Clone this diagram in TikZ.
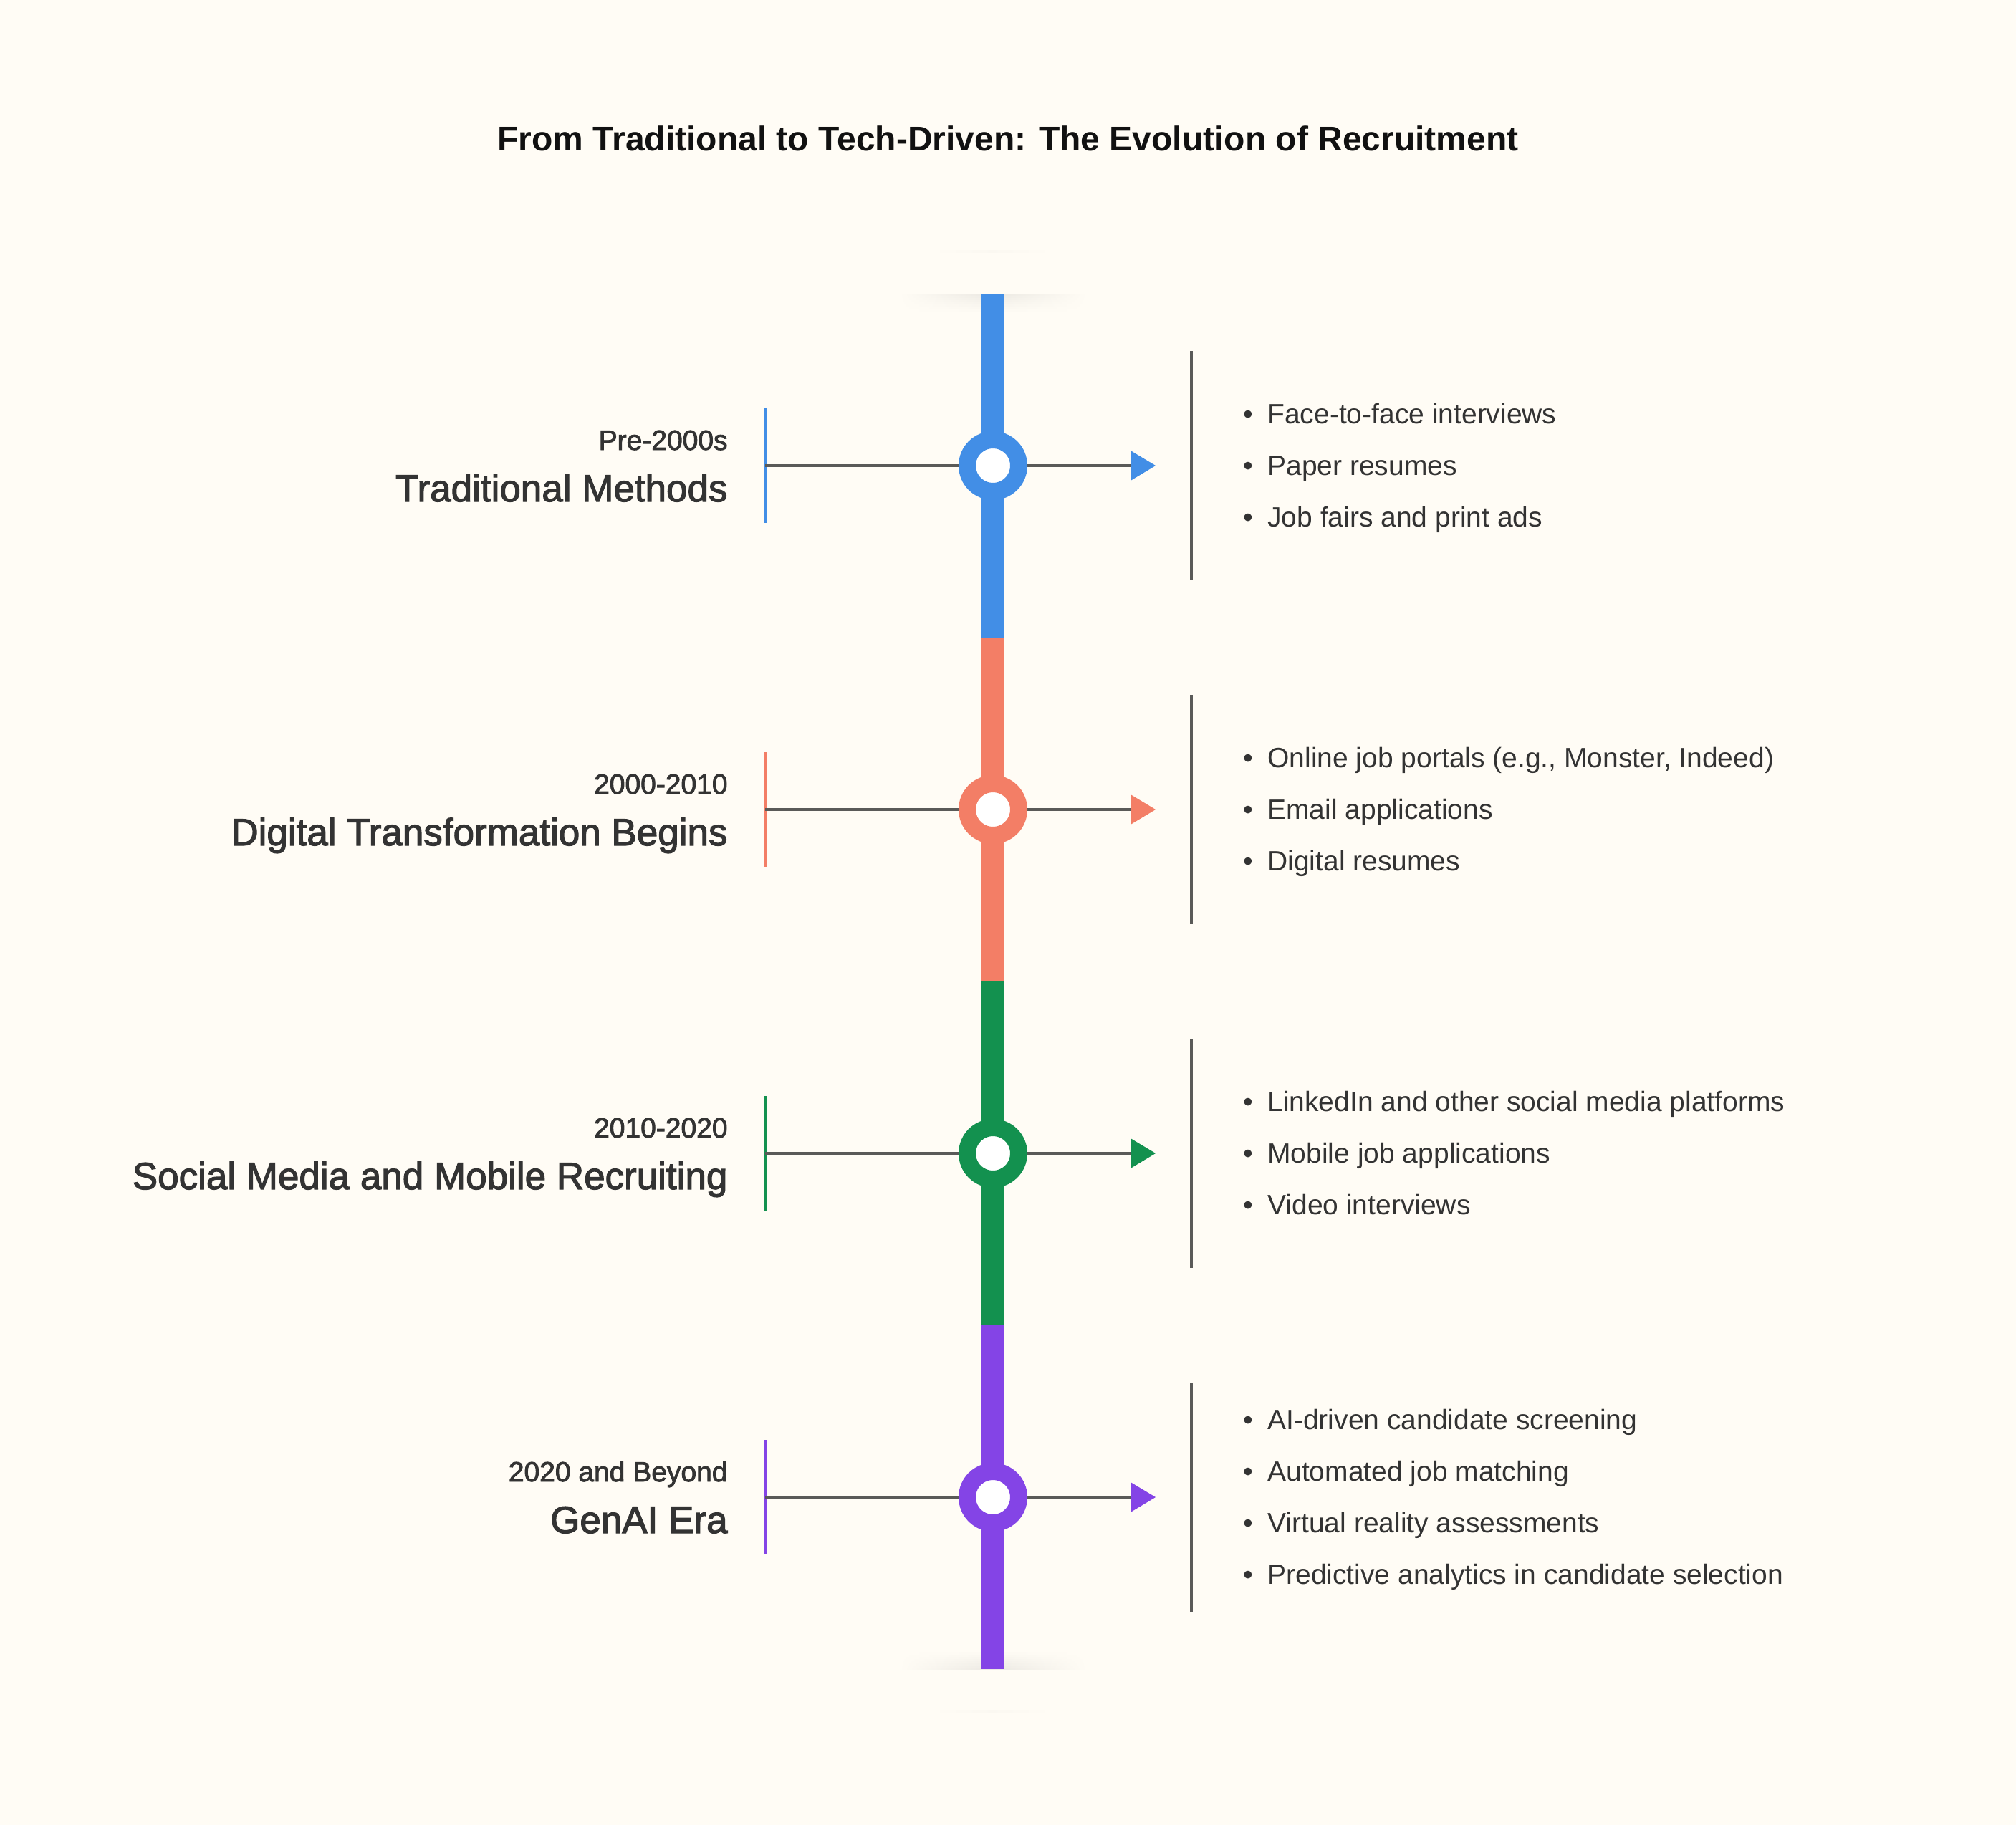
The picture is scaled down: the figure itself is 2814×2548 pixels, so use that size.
\documentclass[tikz,border=0pt]{standalone}
\usepackage{fontspec}
\setmainfont{Liberation Sans}
\newfontfamily\medfont[FakeBold=2.2]{Liberation Sans}
\definecolor{bgc}{HTML}{FFFCF5}
\definecolor{cblue}{HTML}{428EE6}
\definecolor{csalmon}{HTML}{F37E66}
\definecolor{cgreen}{HTML}{13914F}
\definecolor{cpurple}{HTML}{8444E6}
\definecolor{cgray}{HTML}{5A5A58}
\definecolor{ctext}{HTML}{333333}
\definecolor{ctitle}{HTML}{111111}
\tikzset{
  titletxt/.style={font=\bfseries\fontsize{24pt}{28pt}\selectfont, text=ctitle, inner sep=0pt},
  yearlbl/.style={font=\medfont\fontsize{19.5pt}{23pt}\selectfont, text=ctext, inner sep=0pt, anchor=base east},
  phaselbl/.style={font=\medfont\fontsize{26.5pt}{30pt}\selectfont, text=ctext, inner sep=0pt, anchor=base east},
  itemtxt/.style={font=\fontsize{19.5pt}{23pt}\selectfont, text=ctext, inner sep=0pt, anchor=base west},
  barseg/.style={line width=16pt, #1},
  ring/.style={circle, draw=#1, line width=12pt, fill=white, minimum size=36pt, inner sep=0pt},
  connector/.style={draw=cgray, line width=2pt},
  tick/.style={draw=#1, line width=2pt},
  bracket/.style={draw=cgray, line width=2pt},
  capshadow/.style={left color=bgc, right color=bgc, middle color=bgc!#1!black},
}
\newcommand{\itm}[1]{\makebox[17pt][l]{\textbullet}#1}
\begin{document}
\begin{tikzpicture}[x=0.5pt,y=-0.5pt]
\fill[bgc] (0,0) rectangle (2814,2548);
\useasboundingbox (0,0) rectangle (2814,2548);

% title
\node[titletxt, anchor=base] (title) at (1407,210) {From Traditional to Tech-Driven: The Evolution of Recruitment};

% end caps with soft shadows
\shade[capshadow=98.5] (1300,349) rectangle (1470,352);
\shade[capshadow=98.5] (1300,2387) rectangle (1470,2390);
\foreach \k in {0,...,7}{
  \pgfmathsetmacro{\mx}{100-7.5*(1-\k/8)}
  \shade[capshadow=\mx] (1255,410+3*\k) rectangle (1517,413+3*\k);
  \shade[capshadow=\mx] (1255,2327-3*\k) rectangle (1517,2330-3*\k);
}

% spine coordinates
\coordinate (top) at (1386,410);
\coordinate (m1) at (1386,890);
\coordinate (m2) at (1386,1370);
\coordinate (m3) at (1386,1850);
\coordinate (bot) at (1386,2330);
\draw[barseg=cblue] (top) -- (m1);
\draw[barseg=csalmon] (m1) -- (m2);
\draw[barseg=cgreen] (m2) -- (m3);
\draw[barseg=cpurple] (m3) -- (bot);

% per-row elements
\foreach \i/\y/\c in {1/650/cblue, 2/1130/csalmon, 3/1610/cgreen, 4/2090/cpurple}{
  \coordinate (l\i) at (1068,\y);
  \coordinate (lt\i) at (1068,\y-80);
  \coordinate (lb\i) at (1068,\y+80);
  \coordinate (ar\i) at (1578,\y);
  \coordinate (rt\i) at (1663,\y-160);
  \coordinate (rb\i) at (1663,\y+160);
  \draw[tick=\c] (lt\i) -- (lb\i);
  \draw[connector] (l\i) -- (ar\i);
  \node[ring=\c] (c\i) at (1386,\y) {};
  \fill[\c] (ar\i) ++(0,-21) -- ++(35,21) -- ++(-35,21) -- cycle;
  \draw[bracket] (rt\i) -- (rb\i);
}

% left labels
\node[yearlbl] (y1) at (1016,628) {Pre-2000s};
\node[phaselbl] (p1) at (1016,700) {Traditional Methods};
\node[yearlbl] (y2) at (1016,1108) {2000-2010};
\node[phaselbl] (p2) at (1016,1180) {Digital Transformation Begins};
\node[yearlbl] (y3) at (1016,1588) {2010-2020};
\node[phaselbl] (p3) at (1016,1660) {Social Media and Mobile Recruiting};
\node[yearlbl] (y4) at (1016,2068) {2020 and Beyond};
\node[phaselbl] (p4) at (1016,2140) {GenAI Era};

% right item lists
\node[itemtxt] (i11) at (1735,591) {\itm{Face-to-face interviews}};
\node[itemtxt] (i12) at (1735,663) {\itm{Paper resumes}};
\node[itemtxt] (i13) at (1735,735) {\itm{Job fairs and print ads}};

\node[itemtxt] (i21) at (1735,1071) {\itm{Online job portals (e.g., Monster, Indeed)}};
\node[itemtxt] (i22) at (1735,1143) {\itm{Email applications}};
\node[itemtxt] (i23) at (1735,1215) {\itm{Digital resumes}};

\node[itemtxt] (i31) at (1735,1551) {\itm{LinkedIn and other social media platforms}};
\node[itemtxt] (i32) at (1735,1623) {\itm{Mobile job applications}};
\node[itemtxt] (i33) at (1735,1695) {\itm{Video interviews}};

\node[itemtxt] (i41) at (1735,1995) {\itm{AI-driven candidate screening}};
\node[itemtxt] (i42) at (1735,2067) {\itm{Automated job matching}};
\node[itemtxt] (i43) at (1735,2139) {\itm{Virtual reality assessments}};
\node[itemtxt] (i44) at (1735,2211) {\itm{Predictive analytics in candidate selection}};
\end{tikzpicture}
\end{document}
